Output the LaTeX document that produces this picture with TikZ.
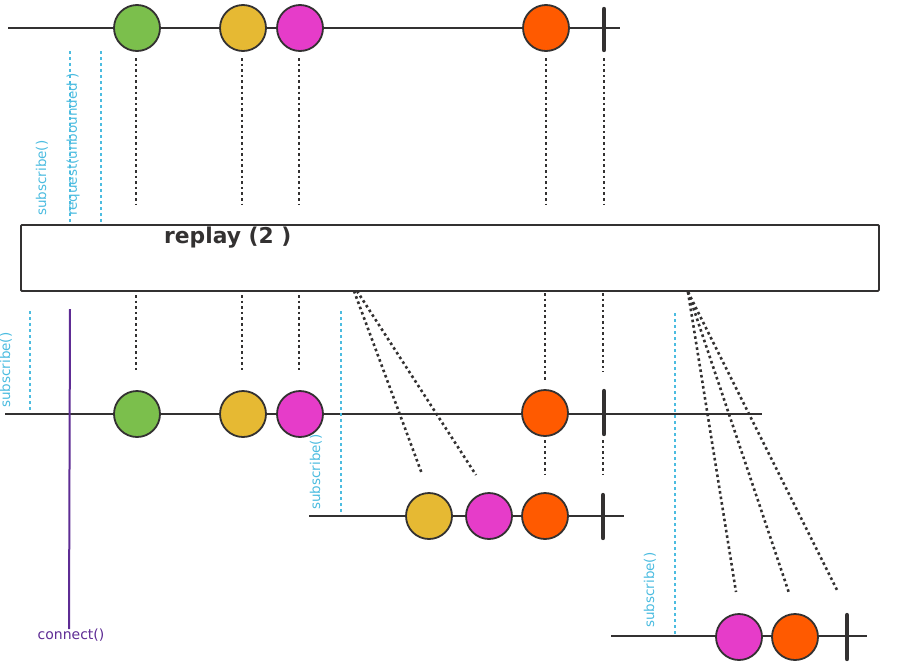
\documentclass[tikz,border=0pt]{standalone}
\usepackage{fontspec}
\setmainfont{DejaVu Sans}
\newfontfamily\boldfam{DejaVu Sans}
\definecolor{lineC}{HTML}{333131}
\definecolor{greenC}{HTML}{7BBF4C}
\definecolor{yellowC}{HTML}{E6B933}
\definecolor{magentaC}{HTML}{E63CC9}
\definecolor{orangeC}{HTML}{FF5A00}
\definecolor{blueC}{HTML}{4CBCE0}
\definecolor{purpleC}{HTML}{5E2C94}
\tikzset{
  timeline/.style={draw=lineC, line width=2.4pt},
  marble/.style={circle, draw=lineC, line width=1.8pt, minimum size=46pt, inner sep=0pt},
  endbar/.style={draw=lineC, line width=4.4pt, line cap=round},
  blackdots/.style={draw=lineC, line width=2.6pt, dash pattern=on 2.6pt off 3pt},
  bluedots/.style={draw=blueC, line width=2.4pt, dash pattern=on 3pt off 3pt},
  lbl/.style={text=blueC, font=\fontsize{13.5}{14}\selectfont, rotate=90, inner sep=0pt},
}
\begin{document}
\begin{tikzpicture}[x=1pt,y=-1pt]
\useasboundingbox (0,0) rectangle (899,667);
% ---------- top source line
\coordinate (t0) at (8,28);
\coordinate (t1) at (620,28);
\draw[timeline] (t0) -- (t1);
\node[marble, fill=greenC] (tg) at (137,28) {};
\node[marble, fill=yellowC] (ty) at (243,28) {};
\node[marble, fill=magentaC] (tm) at (300,28) {};
\node[marble, fill=orangeC] (to) at (546,28) {};
\coordinate (tbA) at (604,9);
\coordinate (tbB) at (604,50);
\draw[endbar] (tbA) -- (tbB);
% dotted down to operator
\foreach \n/\x in {g/136,y/242,m/299,o/546,b/604}{
  \coordinate (tu\n) at (\x,58);
  \coordinate (td\n) at (\x,205);
  \draw[blackdots] (tu\n) -- (td\n);
}
% blue request lines
\coordinate (r1a) at (70,51); \coordinate (r1b) at (70,222);
\coordinate (r2a) at (101,51); \coordinate (r2b) at (101,222);
\draw[bluedots] (r1a) -- (r1b);
\draw[bluedots] (r2a) -- (r2b);
\node[lbl, anchor=south west] (sub0) at (48,216) {subscribe()};
\node[lbl, anchor=south west] (req0) at (80,216) {request(unbounded )};
% ---------- operator box
\node[draw=lineC, line width=1.8pt, rounded corners=1pt, minimum width=858pt, minimum height=66pt, anchor=north west, inner sep=0pt] (box) at (20,224) {};
\node[anchor=west, inner sep=0pt, font=\boldfam\bfseries\fontsize{21.8}{23}\selectfont, text=lineC] (title) at (164,238) {replay (2 )};
% ---------- middle line
\coordinate (m0) at (5,414);
\coordinate (m1) at (762,414);
\draw[timeline] (m0) -- (m1);
% dotted from box to middle
\foreach \n/\x/\ya/\yb in {g/136/295/372,y/242/295/372,m/299/295/372,o/545/293/382,b/603/293/372}{
  \coordinate (mu\n) at (\x,\ya);
  \coordinate (md\n) at (\x,\yb);
  \draw[blackdots] (mu\n) -- (md\n);
}
\node[marble, fill=greenC] (mg) at (137,414) {};
\node[marble, fill=yellowC] (my) at (243,414) {};
\node[marble, fill=magentaC] (mm) at (300,414) {};
\node[marble, fill=orangeC] (mo) at (545,413) {};
\coordinate (mbA) at (604,391);
\coordinate (mbB) at (604,434);
\draw[endbar] (mbA) -- (mbB);
% continuing dots below middle line
\coordinate (lo1) at (545,440); \coordinate (lo2) at (545,474);
\coordinate (lb1) at (603,440); \coordinate (lb2) at (603,474);
\draw[blackdots] (lo1) -- (lo2);
\draw[blackdots] (lb1) -- (lb2);
% blue subscribe middle
\coordinate (s1a) at (30,311); \coordinate (s1b) at (30,410);
\draw[bluedots] (s1a) -- (s1b);
\node[lbl, anchor=south west] (sub1) at (12,408) {subscribe()};
% purple connect
\coordinate (c1a) at (70,309); \coordinate (c1b) at (69,629);
\draw[draw=purpleC, line width=2pt] (c1a) -- (c1b);
\node[anchor=center, inner sep=0pt, text=purpleC, font=\fontsize{14}{15}\selectfont] (conn) at (71,635) {connect()};
% ---------- third line
\coordinate (s2a) at (341,311); \coordinate (s2b) at (341,514);
\draw[bluedots] (s2a) -- (s2b);
\node[lbl, anchor=south west] (sub2) at (322,510) {subscribe()};
\coordinate (d1a) at (354,291); \coordinate (d1b) at (422,474);
\coordinate (d2a) at (357,291); \coordinate (d2b) at (476,475);
\draw[blackdots] (d1a) -- (d1b);
\draw[blackdots] (d2a) -- (d2b);
\coordinate (h0) at (309,516);
\coordinate (h1) at (624,516);
\draw[timeline] (h0) -- (h1);
\node[marble, fill=yellowC] (hy) at (429,516) {};
\node[marble, fill=magentaC] (hm) at (489,516) {};
\node[marble, fill=orangeC] (ho) at (545,516) {};
\coordinate (hbA) at (603,495);
\coordinate (hbB) at (603,538);
\draw[endbar] (hbA) -- (hbB);
% ---------- fourth line
\coordinate (s3a) at (675,313); \coordinate (s3b) at (675,634);
\draw[bluedots] (s3a) -- (s3b);
\node[lbl, anchor=south west] (sub3) at (656,628) {subscribe()};
\coordinate (e0) at (688,292);
\coordinate (e1) at (736,592);
\coordinate (e2) at (789,593);
\coordinate (e3) at (838,592);
\draw[blackdots] (e0) -- (e1);
\draw[blackdots] (e0) -- (e2);
\draw[blackdots] (e0) -- (e3);
\coordinate (f0) at (611,636);
\coordinate (f1) at (867,636);
\draw[timeline] (f0) -- (f1);
\node[marble, fill=magentaC] (fm) at (739,637) {};
\node[marble, fill=orangeC] (fo) at (795,637) {};
\coordinate (fbA) at (847,615);
\coordinate (fbB) at (847,659);
\draw[endbar] (fbA) -- (fbB);
\end{tikzpicture}
\end{document}
